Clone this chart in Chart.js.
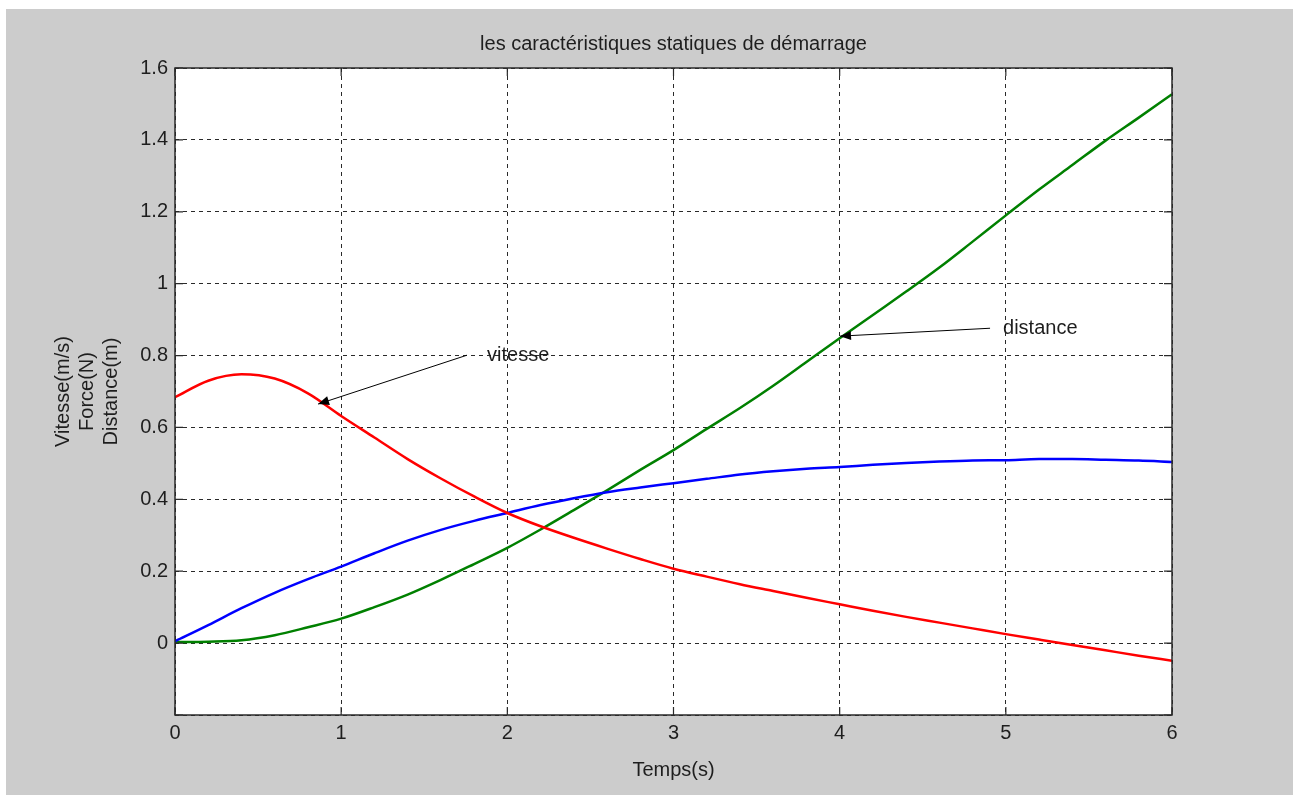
<!DOCTYPE html>
<html>
<head>
<meta charset="utf-8">
<script src="https://cdn.jsdelivr.net/npm/chart.js@4/dist/chart.umd.min.js"></script>
<style>
  html, body { margin: 0; padding: 0; background: #ffffff; }
  #fig { position: absolute; left: 6px; top: 9px; width: 1287px; height: 786px; background: #cccccc; }
</style>
</head>
<body>
<div id="fig"><canvas id="chart" width="1287" height="786"></canvas></div>
<script>
// temps (s)
const temps = [0,0.2,0.4,0.6,0.8,1.0,1.2,1.4,1.6,1.8,2.0,2.2,2.4,2.6,2.8,3.0,
               3.2,3.4,3.6,3.8,4.0,4.2,4.4,4.6,4.8,5.0,5.2,5.4,5.6,5.8,6.0];
// courbe rouge (vitesse)
const vitesse = [0.684,0.730,0.748,0.736,0.695,0.632,0.572,0.512,0.458,0.408,0.362,0.325,
                 0.293,0.263,0.234,0.207,0.185,0.164,0.145,0.126,0.108,0.090,0.073,0.057,
                 0.041,0.025,0.010,-0.005,-0.020,-0.035,-0.049];
// courbe bleue (force)
const force = [0.005,0.050,0.097,0.140,0.178,0.213,0.250,0.285,0.315,0.340,0.362,0.384,
               0.403,0.420,0.433,0.445,0.457,0.469,0.478,0.485,0.490,0.496,0.501,0.505,
               0.508,0.509,0.512,0.512,0.510,0.508,0.504];
// courbe verte (distance)
const distance = [0.003,0.004,0.008,0.022,0.044,0.068,0.100,0.135,0.176,0.220,0.265,0.316,
                  0.370,0.425,0.482,0.537,0.596,0.654,0.716,0.782,0.848,0.913,0.978,1.045,
                  1.117,1.190,1.262,1.330,1.398,1.462,1.527];

const xTickValues = [0,1,2,3,4,5,6];
const xTickLabels = ['0','1','2','3','4','5','6'];
const yTickValues = [-0.2,0,0.2,0.4,0.6,0.8,1.0,1.2,1.4,1.6];
const yTickLabels = ['','0','0.2','0.4','0.6','0.8','1','1.2','1.4','1.6'];

// annotations: texte + flèche (coordonnées en unités des axes)
const notes = [
  {text:'vitesse',  at:[1.878,0.801], from:[1.757,0.801], to:[0.861,0.665]},
  {text:'distance', at:[4.983,0.876], from:[4.905,0.876], to:[4.002,0.854]}
];

const pts = ys => temps.map((t,i)=>({x:t, y:ys[i]}));

Chart.defaults.font.family = '"Liberation Sans", Arial, sans-serif';
Chart.defaults.font.size = 20;
Chart.defaults.color = '#1e1e1e';

const frame = {
  id: 'frame',
  afterDatasetsDraw(chart){
    const ctx = chart.ctx, a = chart.chartArea;
    const xs = chart.scales.x, ys = chart.scales.y;
    ctx.save();
    ctx.strokeStyle = '#2a2a2a';
    ctx.lineWidth = 1.5;
    ctx.setLineDash([]);
    ctx.strokeRect(a.left, a.top, a.right-a.left, a.bottom-a.top);
    // petits traits intérieurs
    ctx.lineWidth = 1.2;
    ctx.beginPath();
    xTickValues.forEach(v=>{
      const px = xs.getPixelForValue(v);
      ctx.moveTo(px, a.bottom); ctx.lineTo(px, a.bottom-8);
      ctx.moveTo(px, a.top); ctx.lineTo(px, a.top+8);
    });
    yTickValues.forEach(v=>{
      const py = ys.getPixelForValue(v);
      ctx.moveTo(a.left, py); ctx.lineTo(a.left+8, py);
      ctx.moveTo(a.right, py); ctx.lineTo(a.right-8, py);
    });
    ctx.stroke();
    // flèches + textes
    notes.forEach(n=>{
      const x1 = xs.getPixelForValue(n.from[0]), y1 = ys.getPixelForValue(n.from[1]);
      const x2 = xs.getPixelForValue(n.to[0]),   y2 = ys.getPixelForValue(n.to[1]);
      ctx.strokeStyle = '#000'; ctx.fillStyle = '#000'; ctx.lineWidth = 1;
      ctx.beginPath(); ctx.moveTo(x1,y1); ctx.lineTo(x2,y2); ctx.stroke();
      const ang = Math.atan2(y2-y1, x2-x1), L = 11, W = 4.5;
      const bx = x2 - L*Math.cos(ang), by = y2 - L*Math.sin(ang);
      ctx.beginPath();
      ctx.moveTo(x2,y2);
      ctx.lineTo(bx + W*Math.sin(ang), by - W*Math.cos(ang));
      ctx.lineTo(bx - W*Math.sin(ang), by + W*Math.cos(ang));
      ctx.closePath(); ctx.fill();
      ctx.fillStyle = '#1e1e1e';
      ctx.font = '20px "Liberation Sans", Arial, sans-serif';
      ctx.textAlign = 'left'; ctx.textBaseline = 'middle';
      ctx.fillText(n.text, xs.getPixelForValue(n.at[0]), ys.getPixelForValue(n.at[1]));
    });
    ctx.restore();
  }
};

const bg = {
  id: 'bg',
  beforeDraw(chart){
    const ctx = chart.ctx, a = chart.chartArea;
    ctx.save(); ctx.fillStyle = '#ffffff';
    ctx.fillRect(a.left, a.top, a.right-a.left, a.bottom-a.top);
    ctx.restore();
  }
};

new Chart(document.getElementById('chart'), {
  type: 'line',
  data: {
    datasets: [
      {label:'vitesse', data: pts(vitesse), borderColor:'#ff0000', borderWidth:2.5},
      {label:'force', data: pts(force), borderColor:'#0000ff', borderWidth:2.5},
      {label:'distance', data: pts(distance), borderColor:'#008000', borderWidth:2.5}
    ]
  },
  options: {
    responsive: false,
    animation: false,
    events: [],
    elements: { point:{radius:0}, line:{cubicInterpolationMode:'monotone', fill:false} },
    layout: { padding: {left:0, right:121, top:0, bottom:0} },
    plugins: {
      legend: {display:false},
      tooltip: {enabled:false},
      title: {
        display:true, fullSize:false, text:'les caractéristiques statiques de démarrage',
        color:'#1e1e1e', font:{size:20, weight:'normal'},
        padding:{top:23, bottom:12}
      }
    },
    scales: {
      x: {
        type:'linear', min:0, max:6,
        afterBuildTicks: s => { s.ticks = xTickValues.map(v=>({value:v})); },
        afterFit: s => { s.height = 80; },
        ticks: { padding:6, callback:(v)=> xTickLabels[xTickValues.indexOf(v)] },
        grid: { color:'#2a2a2a', lineWidth:1, drawTicks:false },
        border: { display:false, dash:[4,4] },
        title: { display:true, text:'Temps(s)', color:'#1e1e1e', font:{size:20}, padding:{top:0, bottom:13} }
      },
      y: {
        type:'linear', min:-0.2, max:1.6,
        afterBuildTicks: s => { s.ticks = yTickValues.map(v=>({value:v})); },
        afterFit: s => { s.width = 169; },
        ticks: { padding:7, callback:(v)=> yTickLabels[yTickValues.findIndex(t=>Math.abs(t-v)<1e-9)] },
        grid: { color:'#2a2a2a', lineWidth:1, drawTicks:false },
        border: { display:false, dash:[4,4] },
        title: { display:true, text:['Vitesse(m/s)','Force(N)','Distance(m)'], color:'#1e1e1e',
                 font:{size:20, lineHeight:1.2}, padding:{top:45, bottom:0} }
      }
    }
  },
  plugins: [bg, frame]
});
</script>
</body>
</html>
